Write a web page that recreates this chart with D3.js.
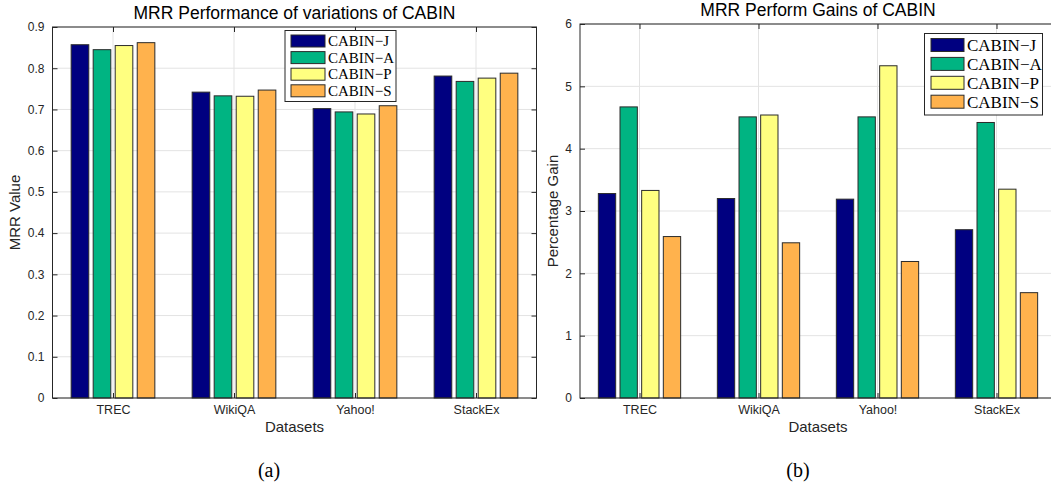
<!DOCTYPE html>
<html>
<head>
<meta charset="utf-8">
<script src="https://cdn.jsdelivr.net/npm/d3@7"></script>
<style>
  body { margin: 0; background: #fff; }
  svg { display: block; }
</style>
</head>
<body>
<div id="plotspace"></div>
<script>
var datasets = ["TREC", "WikiQA", "Yahoo!", "StackEx"];
var variants = ["CABIN\u2212J", "CABIN\u2212A", "CABIN\u2212P", "CABIN\u2212S"];
var colors = ["#000080", "#00b482", "#ffff80", "#ffb24d"];

// (a) MRR values
var mrrJ = [0.857, 0.742, 0.702, 0.781];
var mrrA = [0.845, 0.733, 0.694, 0.768];
var mrrP = [0.855, 0.732, 0.689, 0.776];
var mrrS = [0.862, 0.747, 0.709, 0.788];
var mrrTicks = [0, 0.1, 0.2, 0.3, 0.4, 0.5, 0.6, 0.7, 0.8, 0.9];

// (b) percentage gains
var gainJ = [3.28, 3.20, 3.19, 2.70];
var gainA = [4.67, 4.51, 4.51, 4.42];
var gainP = [3.33, 4.54, 5.33, 3.35];
var gainS = [2.59, 2.49, 2.19, 1.69];
var gainTicks = [0, 1, 2, 3, 4, 5, 6];

var W = 1051, H = 487;
var axcol = "#262626";
var sans = "'Liberation Sans', Arial, Helvetica, sans-serif";
var serif = "'Liberation Serif', 'Times New Roman', serif";

var svg = d3.select("#plotspace").append("svg")
    .attr("width", W).attr("height", H);

var drawPanel = function(p) {
    var x = d3.scaleLinear().domain([0.5, 4.5]).range([p.left, p.right]);
    var y = d3.scaleLinear().domain([p.ticks[0], p.ticks[p.ticks.length - 1]]).range([p.bottom, p.top]);
    var g = svg.append("g");

    // grid
    g.selectAll("line.hgrid").data(p.ticks).enter().append("line")
        .attr("class", "hgrid")
        .attr("x1", p.left).attr("x2", p.right)
        .attr("y1", function(d) { return y(d); }).attr("y2", function(d) { return y(d); })
        .attr("stroke", "#e3e3e3").attr("stroke-width", 1);
    g.selectAll("line.vgrid").data(datasets).enter().append("line")
        .attr("class", "vgrid")
        .attr("x1", function(d, i) { return x(i + 1); }).attr("x2", function(d, i) { return x(i + 1); })
        .attr("y1", p.top).attr("y2", p.bottom)
        .attr("stroke", "#e3e3e3").attr("stroke-width", 1);

    // bars, MATLAB grouped layout: slot 0.182, bar 0.8 of slot
    var slot = 0.182, bw = slot * 0.8;
    p.series.forEach(function(vals, k) {
        g.selectAll("rect.s" + k).data(vals).enter().append("rect")
            .attr("class", "s" + k)
            .attr("x", function(d, i) { return x(i + 1 + (k - 1.5) * slot - bw / 2); })
            .attr("width", x(bw) - x(0))
            .attr("y", function(d) { return y(d); })
            .attr("height", function(d) { return y(0) - y(d); })
            .attr("fill", colors[k])
            .attr("stroke", "#2b2b2b").attr("stroke-width", 1);
    });

    // box
    g.append("rect")
        .attr("x", p.left).attr("y", p.top)
        .attr("width", p.right - p.left).attr("height", p.bottom - p.top)
        .attr("fill", "none").attr("stroke", axcol).attr("stroke-width", 1);

    // y ticks (inside, both sides)
    var yl = d3.axisLeft(y).tickValues(p.ticks).tickSize(-5).tickPadding(8)
        .tickFormat(function(d) { return d3.format("~g")(d); });
    var ya = g.append("g").attr("transform", "translate(" + p.left + ",0)").call(yl);
    ya.select(".domain").remove();
    ya.selectAll("line").attr("stroke", axcol);
    ya.selectAll("text").attr("fill", axcol).style("font", "12px " + sans);
    var yr = d3.axisRight(y).tickValues(p.ticks).tickSize(-5).tickFormat("");
    var yra = g.append("g").attr("transform", "translate(" + p.right + ",0)").call(yr);
    yra.select(".domain").remove();
    yra.selectAll("line").attr("stroke", axcol);

    // x ticks
    var xb = d3.axisBottom(x).tickValues([1, 2, 3, 4]).tickSize(-5).tickPadding(7)
        .tickFormat(function(d) { return datasets[d - 1]; });
    var xa = g.append("g").attr("transform", "translate(0," + p.bottom + ")").call(xb);
    xa.select(".domain").remove();
    xa.selectAll("line").attr("stroke", axcol);
    xa.selectAll("text").attr("fill", axcol).style("font", "12.5px " + sans);
    var xt = d3.axisTop(x).tickValues([1, 2, 3, 4]).tickSize(-5).tickFormat("");
    var xta = g.append("g").attr("transform", "translate(0," + p.top + ")").call(xt);
    xta.select(".domain").remove();
    xta.selectAll("line").attr("stroke", axcol);

    // labels
    var cx = (p.left + p.right) / 2;
    g.append("text").attr("x", cx).attr("y", p.titleY)
        .attr("text-anchor", "middle").attr("fill", "#000")
        .style("font", "17.5px " + sans).text(p.title);
    g.append("text").attr("x", cx).attr("y", p.bottom + 34)
        .attr("text-anchor", "middle").attr("fill", axcol)
        .style("font", "15px " + sans).text("Datasets");
    g.append("text")
        .attr("transform", "translate(" + p.ylabX + "," + ((p.top + p.bottom) / 2) + ") rotate(-90)")
        .attr("text-anchor", "middle").attr("fill", axcol)
        .style("font", "15px " + sans).text(p.ylabel);
    g.append("text").attr("x", p.capX).attr("y", 477)
        .attr("text-anchor", "middle").attr("fill", "#000")
        .style("font", "20px " + serif).text(p.caption);

    // legend
    var L = p.legend;
    var lg = g.append("g");
    lg.append("rect")
        .attr("x", L.x).attr("y", L.y).attr("width", L.w).attr("height", L.h)
        .attr("fill", "#fff").attr("stroke", axcol).attr("stroke-width", 1);
    variants.forEach(function(name, k) {
        var cy = L.y + L.first + k * L.step;
        lg.append("rect")
            .attr("x", L.x + L.px).attr("y", cy - L.ph / 2)
            .attr("width", L.pw).attr("height", L.ph)
            .attr("fill", colors[k]).attr("stroke", "#2b2b2b").attr("stroke-width", 1);
        lg.append("text")
            .attr("x", L.x + L.px + L.pw + 3).attr("y", cy)
            .attr("dy", "0.35em").attr("fill", "#000")
            .style("font", L.fs + "px " + serif).text(name);
    });
};

drawPanel({
    left: 52.5, right: 536.5, top: 27, bottom: 398,
    ticks: mrrTicks,
    series: [mrrJ, mrrA, mrrP, mrrS],
    title: "MRR Performance of variations of CABIN", titleY: 19,
    ylabel: "MRR Value", ylabX: 20, capX: 269, caption: "(a)",
    legend: {x: 285, y: 30.5, w: 111, h: 71, px: 6, pw: 34, ph: 12, first: 10.5, step: 16.6, fs: 15}
});

drawPanel({
    left: 580, right: 1056, top: 24, bottom: 398,
    ticks: gainTicks,
    series: [gainJ, gainA, gainP, gainS],
    title: "MRR Perform Gains of CABIN", titleY: 16,
    ylabel: "Percentage Gain", ylabX: 558, capX: 798, caption: "(b)",
    legend: {x: 924.5, y: 33.5, w: 118, h: 81.5, px: 6.5, pw: 33, ph: 13, first: 11.5, step: 18.9, fs: 17}
});
</script>
</body>
</html>
